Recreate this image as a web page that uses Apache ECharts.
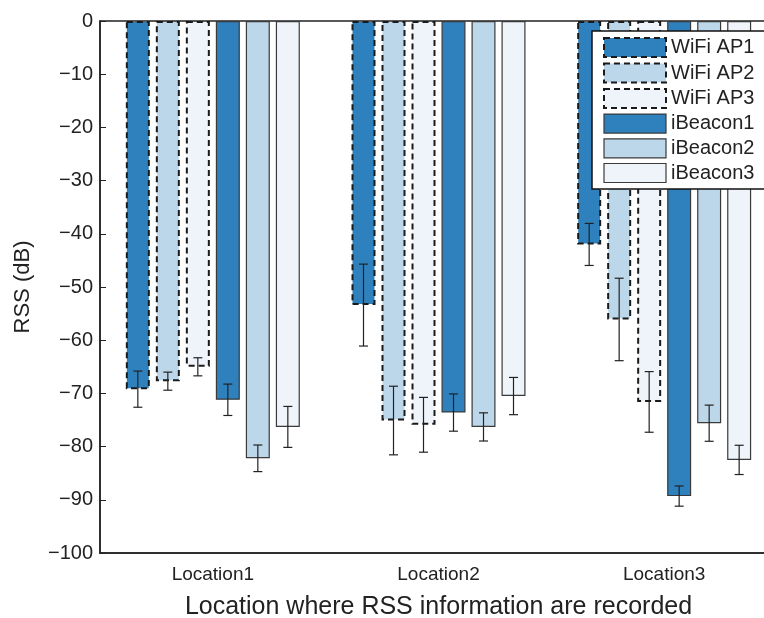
<!DOCTYPE html>
<html>
<head>
<meta charset="utf-8">
<script src="https://cdn.jsdelivr.net/npm/echarts@6/dist/echarts.min.js"></script>
<style>
  html, body { margin: 0; padding: 0; background: #fff; }
  #chart { width: 764px; height: 618px; }
</style>
</head>
<body>
<div id="chart"></div>
<script>
// Mean received signal strength per location, with standard deviation.
const locations = ['Location1', 'Location2', 'Location3'];
const seriesNames = ['WiFi AP1', 'WiFi AP2', 'WiFi AP3', 'iBeacon1', 'iBeacon2', 'iBeacon3'];

const wifiAP1 = [-69.2, -53.4, -42.0];
const wifiAP2 = [-67.7, -75.1, -56.1];
const wifiAP3 = [-65.0, -75.9, -71.6];
const iBeacon1 = [-71.2, -73.6, -89.3];
const iBeacon2 = [-82.2, -76.3, -75.6];
const iBeacon3 = [-76.3, -70.5, -82.5];

const wifiAP1Err = [3.4, 7.7, 3.95];
const wifiAP2Err = [1.7, 6.45, 7.75];
const wifiAP3Err = [1.7, 5.15, 5.7];
const iBeacon1Err = [2.95, 3.5, 1.9];
const iBeacon2Err = [2.5, 2.65, 3.4];
const iBeacon3Err = [3.85, 3.5, 2.75];

const yTicks = [0, -10, -20, -30, -40, -50, -60, -70, -80, -90, -100];

const means = [wifiAP1, wifiAP2, wifiAP3, iBeacon1, iBeacon2, iBeacon3];
const errs = [wifiAP1Err, wifiAP2Err, wifiAP3Err, iBeacon1Err, iBeacon2Err, iBeacon3Err];

const fills = ['#2f81be', '#bdd7ea', '#eff4fa', '#2f81be', '#bdd7ea', '#eff4fa'];
const FONT = 'Liberation Sans, Arial, sans-serif';
const BAR_W = 24;
const BAR_STEP = 30;

function barStyle(k) {
  const wifi = k < 3;
  return {
    color: fills[k],
    borderColor: wifi ? '#1a1a1a' : '#3a3a3a',
    borderWidth: wifi ? 2 : 1.2,
    borderType: wifi ? [6, 4] : 'solid'
  };
}

const barSeries = seriesNames.map((name, k) => ({
  name: name,
  type: 'bar',
  barWidth: BAR_W,
  barGap: '25%',
  data: means[k],
  itemStyle: barStyle(k),
  emphasis: { disabled: true },
  z: 2
}));

const errSeries = seriesNames.map((name, k) => ({
  type: 'custom',
  name: name + ' err',
  data: means[k].map((m, i) => [i, m, errs[k][i]]),
  z: 5,
  silent: true,
  renderItem: function (params, api) {
    const i = api.value(0), m = api.value(1), e = api.value(2);
    const off = (k - 2.5) * BAR_STEP;
    const top = api.coord([i, m + e]);
    const bot = api.coord([i, m - e]);
    const x = top[0] + off;
    const cap = 4.5;
    const st = { stroke: '#222', lineWidth: 1.2 };
    return {
      type: 'group',
      children: [
        { type: 'line', shape: { x1: x, y1: top[1], x2: x, y2: bot[1] }, style: st },
        { type: 'line', shape: { x1: x - cap, y1: top[1], x2: x + cap, y2: top[1] }, style: st },
        { type: 'line', shape: { x1: x - cap, y1: bot[1], x2: x + cap, y2: bot[1] }, style: st }
      ]
    };
  }
}));

const chart = echarts.init(document.getElementById('chart'), null, { renderer: 'canvas' });
chart.setOption({
  animation: false,
  backgroundColor: '#fff',
  textStyle: { fontFamily: FONT },
  grid: {
    left: 100, top: 21, bottom: 65, width: 677,
    containLabel: false,
    outerBoundsMode: 'none',
    show: true, borderColor: '#222', borderWidth: 1.5, backgroundColor: 'transparent'
  },
  graphic: [{
    type: 'rect',
    shape: { x: 592, y: 31, width: 200, height: 158 },
    style: { fill: '#fff', stroke: '#111', lineWidth: 1.5 },
    z: 90
  }],
  legend: {
    left: 603, top: 37,
    padding: 0,
    orient: 'vertical',
    icon: 'rect',
    itemWidth: 62, itemHeight: 19, itemGap: 4.5,
    z: 100,
    textStyle: { fontFamily: FONT, fontSize: 20, color: '#222' },
    data: seriesNames.map((n, k) => ({ name: n, itemStyle: barStyle(k) })),
    selectedMode: false
  },
  xAxis: {
    type: 'category',
    data: locations,
    axisLine: { onZero: false, lineStyle: { color: '#222', width: 1.5 } },
    axisTick: { inside: true, alignWithLabel: true, length: 6, lineStyle: { color: '#222' } },
    axisLabel: { fontFamily: FONT, fontSize: 19, color: '#222', margin: 12 },
    name: 'Location where RSS information are recorded',
    nameLocation: 'middle',
    nameGap: 42,
    nameTextStyle: { fontFamily: FONT, fontSize: 25, color: '#222' }
  },
  yAxis: {
    type: 'value',
    min: -100, max: 0, interval: 10,
    axisLine: { show: true, lineStyle: { color: '#222', width: 1.5 } },
    axisTick: { show: true, inside: true, length: 6, lineStyle: { color: '#222' } },
    splitLine: { show: false },
    axisLabel: {
      fontFamily: FONT, fontSize: 20, color: '#222', margin: 7,
      formatter: v => yTicks.includes(v) ? String(v).replace('-', '\u2212') : ''
    },
    name: 'RSS (dB)',
    nameLocation: 'middle',
    nameGap: 66,
    nameTextStyle: { fontFamily: FONT, fontSize: 22, color: '#222' }
  },
  series: barSeries.concat(errSeries)
});
</script>
</body>
</html>
